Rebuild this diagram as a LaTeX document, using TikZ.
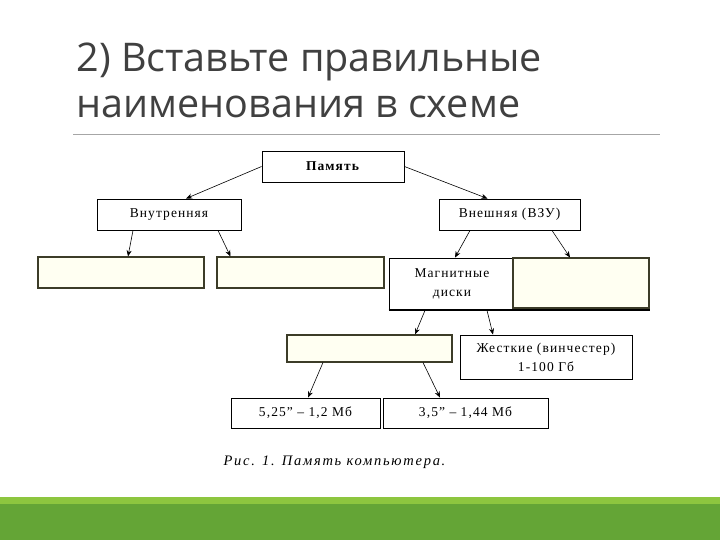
\documentclass[tikz,border=0pt]{standalone}
\usepackage{fontspec}
\setmainfont{Liberation Serif}
\newfontfamily\titlefont{Open Sans}
\newfontfamily\diagfont{Liberation Serif}[LetterSpace=8]
\newfontfamily\capfont{Liberation Serif}[LetterSpace=12]
\usetikzlibrary{arrows.meta,positioning}
\definecolor{slidegreen}{HTML}{64A536}
\definecolor{slidelight}{HTML}{8DC63F}
\definecolor{titlegray}{HTML}{404040}
\definecolor{blankfill}{HTML}{FFFFF2}
\definecolor{blankedge}{HTML}{3C3C28}

\begin{document}
\begin{tikzpicture}[x=1pt, y=-1pt,
  every node/.style={font=\diagfont\fontsize{13.5}{19}\selectfont},
  box/.style={rectangle, draw, line width=0.9pt, inner sep=0pt, align=center},
  blank/.style={box, draw=blankedge, fill=blankfill, line width=1.1pt},
  heading/.style={anchor=base west, text=titlegray, font=\titlefont\fontsize{39.5}{46}\selectfont},
  arr/.style={-{Stealth[length=2.2mm, width=1.8mm]}, line width=0.6pt},
]
\fill[white] (0,0) rectangle (720,540);
\useasboundingbox (0,0) rectangle (720,540);

% slide title
\node[heading] (title1) at (73,72) {2) Вставьте правильные};
\node[heading] (title2) at (73,118) {наименования в схеме};
\draw[gray!70, line width=0.8pt] (73,134) -- (660,134);

% boxes
\node[box, minimum width=142pt, minimum height=31pt] (mem) at (333,166.5) {\textbf{Память}};
\node[box, minimum width=144pt, minimum height=31pt] (inner) at (169,214.5) {Внутренняя};
\node[box, minimum width=141pt, minimum height=31pt] (outer) at (509.5,214.5) {Внешняя (ВЗУ)};
\node[blank, minimum width=166pt, minimum height=31pt] (blankA) at (121,272.5) {};
\node[blank, minimum width=167pt, minimum height=31pt] (blankB) at (300.5,272.5) {};
\node[box, minimum width=126pt, minimum height=52pt] (magn) at (452,284) {Магнитные\\диски};
\node[blank, minimum width=136pt, minimum height=50pt] (blankC) at (581,283) {};
\draw[line width=2pt] (magn.south west) -- (magn.south west -| blankC.east);
\node[blank, minimum width=165pt, minimum height=27pt] (blankD) at (369.5,348.5) {};
\node[box, minimum width=172pt, minimum height=44pt] (hard) at (546,357) {Жесткие (винчестер)\\1-100 Гб};
\node[box, minimum width=149pt, minimum height=30pt] (fdA) at (305.5,413) {5,25” – 1,2 Мб};
\node[box, minimum width=165pt, minimum height=30pt] (fdB) at (465.5,413) {3,5” – 1,44 Мб};

\node[anchor=west, font=\capfont\itshape\fontsize{14.5}{17}\selectfont] (caption) at (220,462) {Рис. 1. Память компьютера.};

% connectors
\draw[arr] (mem.west) -- ([xshift=17pt]inner.north);
\draw[arr] (mem.east) -- ([xshift=-22pt]outer.north);
\draw[arr] ([xshift=-36pt]inner.south) -- ([xshift=7pt]blankA.north);
\draw[arr] ([xshift=49pt]inner.south) -- ([xshift=-70pt]blankB.north);
\draw[arr] ([xshift=-39.5pt]outer.south) -- ([xshift=3pt]magn.north);
\draw[arr] ([xshift=42.5pt]outer.south) -- ([xshift=-11pt]blankC.north);
\draw[arr] ([xshift=-27pt]magn.south) -- ([xshift=45.5pt]blankD.north);
\draw[arr] ([xshift=35pt]magn.south) -- ([xshift=-53pt]hard.north);
\draw[arr] ([xshift=-46.5pt]blankD.south) -- ([xshift=2.5pt]fdA.north);
\draw[arr] ([xshift=53.5pt]blankD.south) -- ([xshift=-25.5pt]fdB.north);

% green footer
\fill[slidelight] (0,497) rectangle (720,504);
\fill[slidegreen] (0,504) rectangle (720,540);
\end{tikzpicture}
\end{document}
